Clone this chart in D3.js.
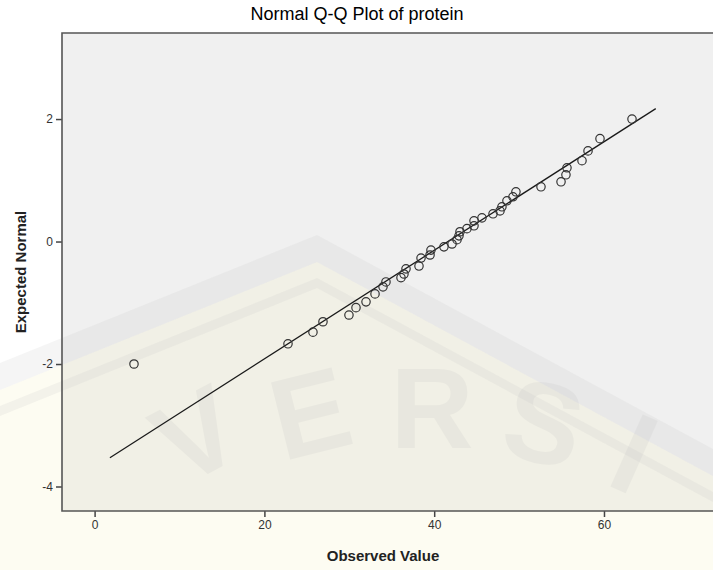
<!DOCTYPE html>
<html>
<head>
<meta charset="utf-8">
<script src="https://cdn.jsdelivr.net/npm/d3@7"></script>
<style>
  body { margin: 0; background: #fff; }
  svg { display: block; font-family: "Liberation Sans", Arial, sans-serif; }
</style>
</head>
<body>
<div id="qqplot"></div>
<script>
// values
const observed = [4.64, 22.78, 25.72, 26.90, 29.96, 30.79, 31.97, 33.03, 33.97, 34.32,
                  36.09, 36.44, 36.68, 38.21, 38.45, 39.51, 39.62, 41.15, 42.10, 42.69,
                  42.92, 43.04, 43.86, 44.69, 44.69, 45.63, 46.93, 47.75, 47.98, 48.57,
                  49.28, 49.63, 52.58, 54.94, 55.52, 55.64, 57.41, 58.12, 59.53, 63.30];
const expected = [-2.00, -1.67, -1.48, -1.31, -1.20, -1.08, -0.985, -0.855, -0.74, -0.66,
                  -0.59, -0.53, -0.446, -0.40, -0.27, -0.22, -0.14, -0.087, -0.04, 0.03,
                  0.093, 0.16, 0.21, 0.257, 0.338, 0.387, 0.453, 0.50, 0.567, 0.665,
                  0.73, 0.812, 0.894, 0.975, 1.09, 1.204, 1.32, 1.48, 1.68, 2.00];
const xTicks = [0, 20, 40, 60];
const yTicks = [2, 0, -2, -4];
// reference line: expected = (x - mean) / sd
const fitMean = 41.62, fitSd = 11.28;
const lineRange = [1.8, 66.1];

const width = 713, height = 570;
const margin = {top: 33, right: 0, bottom: 59, left: 62};

const svg = d3.select('#qqplot')
    .append('svg')
    .attr('width', width)
    .attr('height', height);

const xScale = d3.scaleLinear()
    .domain([-3.84, 72.9])
    .range([margin.left, width + 0.5]);

const yScale = d3.scaleLinear()
    .domain([-4.40, 3.405])
    .range([height - margin.bottom, margin.top]);

// plot background
svg.append('rect')
    .attr('x', margin.left)
    .attr('y', margin.top)
    .attr('width', width - margin.left + 5)
    .attr('height', height - margin.bottom - margin.top)
    .attr('fill', '#f0f0f0');

// faint watermark behind the data
let wm = svg.append('g').attr('pointer-events', 'none');
wm.append('path')
    .attr('d', 'M0,390 L317,262 L713,476 L713,570 L0,570 Z')
    .attr('fill', '#f3efc0').attr('opacity', 0.2);
wm.append('path')
    .attr('d', 'M0,363 L317,235 L713,449 L713,476 L317,262 L0,390 Z')
    .attr('fill', '#c8c8c8').attr('opacity', 0.18);
wm.append('path')
    .attr('d', 'M0,406 L317,278 L713,492 L713,502 L317,288 L0,416 Z')
    .attr('fill', '#c8c8c8').attr('opacity', 0.18);
const wmLetters = [['V', 215, 470, -28], ['E', 320, 452, -14], ['R', 432, 448, 0],
                   ['S', 535, 462, 13], ['I', 618, 490, 24]];
wm.selectAll('text')
    .data(wmLetters)
    .enter()
    .append('text')
    .attr('transform', d => `translate(${d[1]},${d[2]}) rotate(${d[3]})`)
    .attr('text-anchor', 'middle')
    .style('font-size', '115px')
    .style('font-weight', 'bold')
    .attr('fill', '#bdbdbd')
    .attr('opacity', 0.16)
    .text(d => d[0]);

// axes (plain hyphen for negatives, like the original)
let xAxis = svg.append('g')
    .attr('transform', `translate(0, ${height - margin.bottom})`)
    .call(d3.axisBottom(xScale).tickValues(xTicks).tickFormat(d => String(d)).tickSize(6).tickPadding(3));
let yAxis = svg.append('g')
    .attr('transform', `translate(${margin.left}, 0)`)
    .call(d3.axisLeft(yScale).tickValues(yTicks).tickFormat(d => String(d)).tickSize(6).tickPadding(3));
[xAxis, yAxis].forEach(a => {
    a.select('.domain').remove();
    a.selectAll('line').attr('stroke', '#444').attr('stroke-width', 1.5);
    a.selectAll('text').attr('fill', '#333').style('font-size', '12px')
        .style('font-family', '"Liberation Sans", Arial, sans-serif');
});

// frame
svg.append('path')
    .attr('d', `M${width + 2},${margin.top} H${margin.left} V${height - margin.bottom} H${width + 2}`)
    .attr('fill', 'none')
    .attr('stroke', '#555')
    .attr('stroke-width', 1.6);

// reference line
svg.append('line')
    .attr('x1', xScale(lineRange[0]))
    .attr('y1', yScale((lineRange[0] - fitMean) / fitSd))
    .attr('x2', xScale(lineRange[1]))
    .attr('y2', yScale((lineRange[1] - fitMean) / fitSd))
    .attr('stroke', '#1a1a1a')
    .attr('stroke-width', 1.3);

// points
svg.selectAll('circle')
    .data(observed)
    .enter()
    .append('circle')
    .attr('cx', d => xScale(d))
    .attr('cy', (d, i) => yScale(expected[i]))
    .attr('r', 4.2)
    .attr('fill', 'none')
    .attr('stroke', '#333')
    .attr('stroke-width', 1.2);

// title and axis labels
svg.append('text')
    .attr('x', 357)
    .attr('y', 20)
    .attr('text-anchor', 'middle')
    .style('font-size', '18px')
    .attr('fill', '#000')
    .text('Normal Q-Q Plot of protein');

svg.append('text')
    .attr('x', 383)
    .attr('y', 561)
    .attr('text-anchor', 'middle')
    .style('font-size', '15px')
    .style('font-weight', 'bold')
    .attr('fill', '#222')
    .text('Observed Value');

svg.append('text')
    .attr('transform', `translate(26, ${(margin.top + height - margin.bottom) / 2}) rotate(-90)`)
    .attr('text-anchor', 'middle')
    .style('font-size', '15px')
    .style('font-weight', 'bold')
    .attr('fill', '#222')
    .text('Expected Normal');
</script>
</body>
</html>
